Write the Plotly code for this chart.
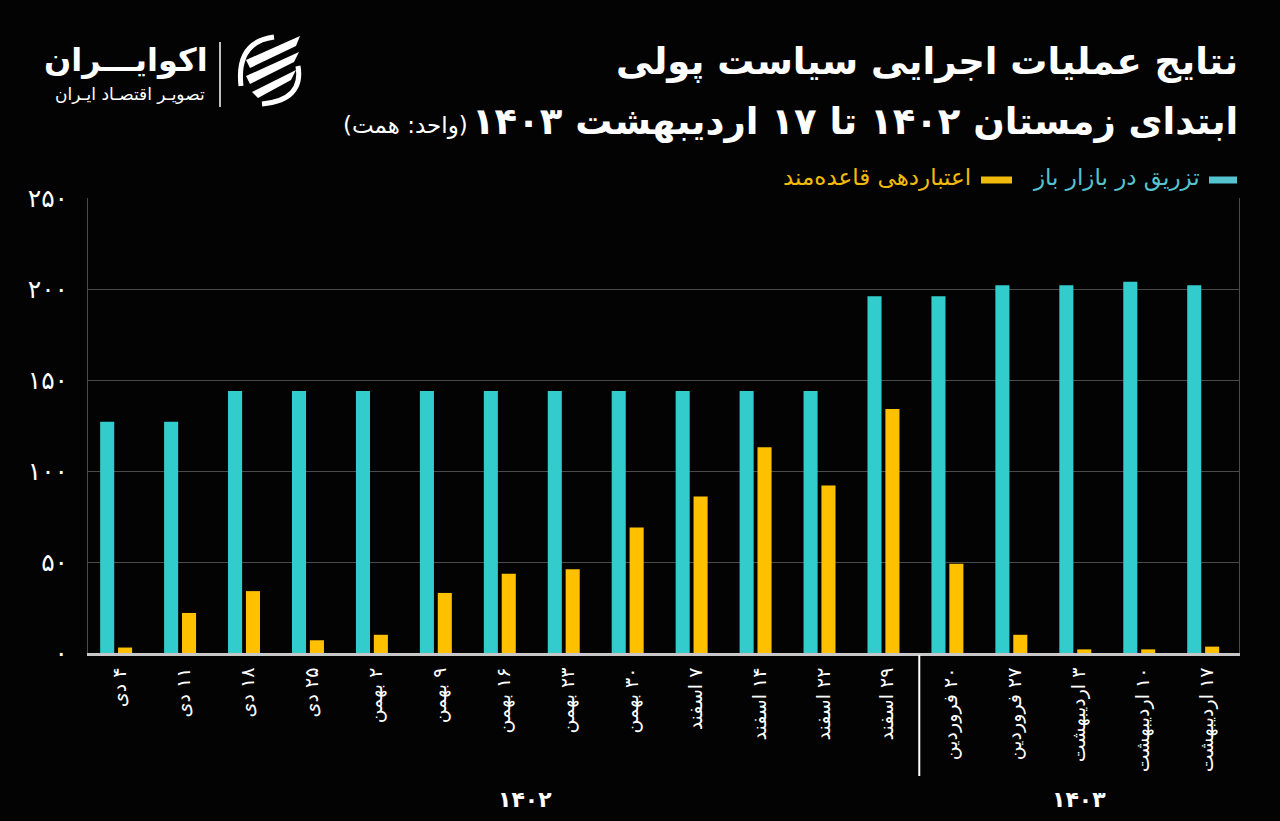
import plotly.graph_objects as go

# ---------------- data ----------------
categories = ["۴ دی", "۱۱ دی", "۱۸ دی", "۲۵ دی", "۲ بهمن", "۹ بهمن", "۱۶ بهمن", "۲۳ بهمن",
              "۳۰ بهمن", "۷ اسفند", "۱۴ اسفند", "۲۲ اسفند", "۲۹ اسفند", "۲۰ فروردین",
              "۲۷ فروردین", "۳ اردیبهشت", "۱۰ اردیبهشت", "۱۷ اردیبهشت"]
open_market = [127, 127, 144, 144, 144, 144, 144, 144, 144, 144, 144, 144, 196, 196,
               202, 202, 204, 202]
standing_credit = [3, 22, 34, 7, 10, 33, 43.5, 46, 69, 86, 113, 92, 134, 49, 10, 2, 2, 3.5]
series_names = ["تزریق در بازار باز", "اعتباردهی قاعده‌مند"]
y_tickvals = [0, 50, 100, 150, 200, 250]
y_ticktext = ["۰", "۵۰", "۱۰۰", "۱۵۰", "۲۰۰", "۲۵۰"]
year_labels = ["۱۴۰۲", "۱۴۰۳"]
title_1 = "نتایج عملیات اجرایی سیاست پولی"
title_2 = "ابتدای زمستان ۱۴۰۲ تا ۱۷ اردیبهشت ۱۴۰۳"
unit_text = "(واحد: همت)"
brand = "اکوایـــران"
brand_sub = "تصویـر اقتصـاد ایـران"

# ---------------- style ----------------
TEAL = "#33CCCC"
GOLD = "#FFC000"
TEAL_TXT = "#56C3D1"
GOLD_TXT = "#F2BA0A"
BG = "#030303"
FONT = "DejaVu Sans"

W, H = 1280, 821
PX0, PX1, PY0, PY1 = 88, 1239, 198, 653  # plot area in pixels


def rtl(s):
    return "\u202b" + s + "\u202c"


def px(x):
    return (x - PX0) / (PX1 - PX0)


def py(y):
    return (PY1 - y) / (PY1 - PY0)


fig = go.Figure()
fig.add_trace(go.Bar(x=categories, y=open_market, name=series_names[0],
                     width=0.22, offset=-0.31,
                     marker=dict(color=TEAL, line=dict(width=0))))
fig.add_trace(go.Bar(x=categories, y=standing_credit, name=series_names[1],
                     width=0.22, offset=-0.03,
                     marker=dict(color=GOLD, line=dict(width=0))))

fig.update_layout(
    width=W, height=H,
    margin=dict(l=PX0, r=W - PX1, t=PY0, b=H - PY1, pad=0),
    paper_bgcolor=BG, plot_bgcolor=BG,
    barmode="overlay",
    showlegend=False,
    font=dict(family=FONT, color="white"),
)
fig.update_xaxes(
    type="category",
    tickvals=categories,
    ticktext=[rtl(c) for c in categories],
    tickangle=-90,
    tickfont=dict(size=19, color="white", family=FONT),
    ticks="", ticklabelstandoff=4,
    showgrid=False, zeroline=False,
    showline=True, linecolor="#c8c8c8", linewidth=3,
)
fig.update_yaxes(
    range=[0, 250],
    tickvals=y_tickvals, ticktext=y_ticktext,
    tickfont=dict(size=25, color="white", family=FONT),
    ticks="", ticklabelstandoff=14,
    showgrid=True, gridcolor="#4a4a4a", gridwidth=1,
    zeroline=False,
    showline=True, linecolor="#4a4a4a", linewidth=1, mirror=True,
)

# separator between years and year labels
fig.add_shape(type="line", xref="x", yref="paper", x0=12.5, x1=12.5,
              y0=py(655), y1=py(776), line=dict(color="white", width=2))
fig.add_annotation(xref="x", yref="paper", x=6.33, y=py(814), text="<b>" + year_labels[0] + "</b>",
                   showarrow=False, font=dict(size=22, color="white", family=FONT))
fig.add_annotation(xref="x", yref="paper", x=15.0, y=py(814), text="<b>" + year_labels[1] + "</b>",
                   showarrow=False, font=dict(size=22, color="white", family=FONT))

# titles
fig.add_annotation(xref="paper", yref="paper", x=px(1240), y=py(62), xanchor="right",
                   yanchor="middle", text="<b>" + rtl(title_1) + "</b>", showarrow=False,
                   font=dict(size=37, color="white", family=FONT))
fig.add_annotation(xref="paper", yref="paper", x=px(1240), y=py(122), xanchor="right",
                   yanchor="middle", text="<b>" + rtl(title_2) + "</b>", showarrow=False,
                   font=dict(size=37, color="white", family=FONT))
fig.add_annotation(xref="paper", yref="paper", x=px(470), y=py(126), xanchor="right",
                   yanchor="middle", text=rtl(unit_text), showarrow=False,
                   font=dict(size=23, color="white", family=FONT))

# legend (RTL style: symbol to the right of text)
fig.add_shape(type="line", xref="paper", yref="paper", x0=px(1209), x1=px(1237),
              y0=py(180), y1=py(180), line=dict(color=TEAL_TXT, width=7))
fig.add_annotation(xref="paper", yref="paper", x=px(1202), y=py(178), xanchor="right",
                   yanchor="middle", text=rtl(series_names[0]), showarrow=False,
                   font=dict(size=23, color=TEAL_TXT, family=FONT))
fig.add_shape(type="line", xref="paper", yref="paper", x0=px(981), x1=px(1012),
              y0=py(180), y1=py(180), line=dict(color=GOLD_TXT, width=7))
fig.add_annotation(xref="paper", yref="paper", x=px(973), y=py(178), xanchor="right",
                   yanchor="middle", text=rtl(series_names[1]), showarrow=False,
                   font=dict(size=23, color=GOLD_TXT, family=FONT))

# brand logo
fig.add_annotation(xref="paper", yref="paper", x=px(210), y=py(60), xanchor="right",
                   yanchor="middle", text="<b>" + rtl(brand) + "</b>", showarrow=False,
                   font=dict(size=32, color="white", family=FONT))
fig.add_annotation(xref="paper", yref="paper", x=px(207), y=py(94), xanchor="right",
                   yanchor="middle", text=rtl(brand_sub), showarrow=False,
                   font=dict(size=17, color="white", family=FONT))
fig.add_shape(type="line", xref="paper", yref="paper", x0=px(220), x1=px(220),
              y0=py(42), y1=py(107), line=dict(color="white", width=1.5))


def pth(points):
    s = "M %f %f" % (px(points[0][0]), py(points[0][1]))
    for p in points[1:]:
        s += " L %f %f" % (px(p[0]), py(p[1]))
    return s + " Z"


# swoosh icon (three slanted strokes inside a ring)
fig.add_shape(type="path", xref="paper", yref="paper",
              path=pth([(246, 60), (300, 36), (296, 46), (250, 68)]),
              fillcolor="white", line=dict(width=0))
fig.add_shape(type="path", xref="paper", yref="paper",
              path=pth([(246, 76), (299, 52), (294, 62), (250, 84)]),
              fillcolor="white", line=dict(width=0))
fig.add_shape(type="path", xref="paper", yref="paper",
              path=pth([(252, 92), (296, 70), (291, 80), (258, 98)]),
              fillcolor="white", line=dict(width=0))
fig.add_shape(type="path", xref="paper", yref="paper",
              path="M %f %f Q %f %f %f %f" % (px(274), py(37), px(236), py(42), px(241), py(86)),
              line=dict(color="white", width=5))
fig.add_shape(type="path", xref="paper", yref="paper",
              path="M %f %f Q %f %f %f %f" % (px(262), py(104), px(304), py(100), px(298), py(66)),
              line=dict(color="white", width=5))

fig.write_html("out.html", config={"displayModeBar": False},
               post_script="document.body.style.margin='0';document.body.style.overflow='hidden';document.body.style.background='%s';" % BG)
